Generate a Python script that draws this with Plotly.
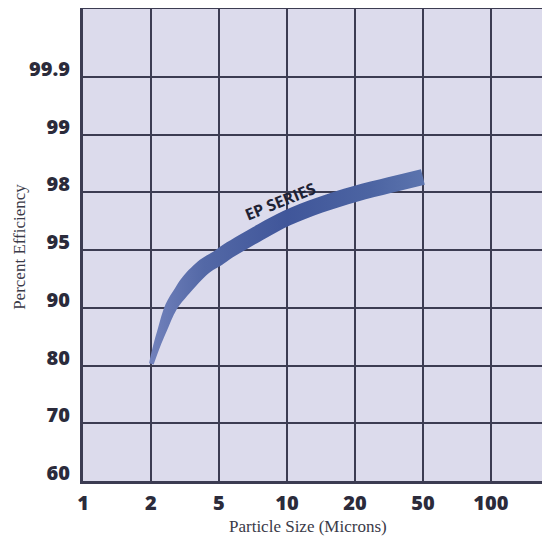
import numpy as np
import plotly.graph_objects as go

# ---- data ----
x_ticks = [1, 2, 5, 10, 20, 50, 100]
x_labels = ["1", "2", "5", "10", "20", "50", "100"]
y_ticks = [60, 70, 80, 90, 95, 98, 99, 99.9]
y_labels = ["60", "70", "80", "90", "95", "98", "99", "99.9"]

particle_size = [2.01, 2.15, 2.33, 2.62, 3.02, 3.34, 4.14, 4.93, 5.48,
                 7.75, 10.0, 14.0, 20.0, 32.0, 50.0]
efficiency = [80.4, 84.0, 87.0, 90.1, 91.8, 92.7, 93.95, 94.5, 94.95,
              96.3, 97.0, 97.56, 97.95, 98.17, 98.34]

series_name = "EP SERIES"
label_size, label_eff = 9.4, 97.7

# ---- scale mapping (evenly spaced grid) ----
xi = np.arange(len(x_ticks))
yi = np.arange(len(y_ticks))

def xpos(v):
    return np.interp(np.log10(v), np.log10(x_ticks), xi)

def ypos(v):
    return np.interp(-np.log10(100 - np.asarray(v, float)),
                     -np.log10(100 - np.asarray(y_ticks, float)), yi)

px = xpos(np.array(particle_size))
py = ypos(np.array(efficiency))

# plot geometry (pixels per axis unit)
W, H = 542, 530
ML, MR, MT, MB = 75, 0, 1, 57
x_range = [0, 6.87]
y_range = [0, 8.18]
sx = (W - ML - MR) / (x_range[1] - x_range[0])
sy = (H - MT - MB) / (y_range[1] - y_range[0])

# band outline: offset the centre line in screen space, tapering at the start
P = np.column_stack([px * sx, py * sy])
seg = np.linalg.norm(np.diff(P, axis=0), axis=1)
s = np.concatenate([[0], np.cumsum(seg)])
half_w = 8.0 * np.clip(0.3 + 0.7 * s / 90.0, 0, 1)
T = np.gradient(P, axis=0)
T /= np.linalg.norm(T, axis=1, keepdims=True)
N = np.column_stack([-T[:, 1], T[:, 0]])
upper = P + half_w[:, None] * N
lower = P - half_w[:, None] * N

fig = go.Figure()
fig.add_trace(go.Scatter(x=lower[:, 0] / sx, y=lower[:, 1] / sy, mode="lines",
                         line=dict(width=0, shape="spline", smoothing=1.0),
                         hoverinfo="skip", showlegend=False))
fig.add_trace(go.Scatter(x=upper[:, 0] / sx, y=upper[:, 1] / sy, mode="lines",
                         line=dict(width=0, shape="spline", smoothing=1.0),
                         fill="tonexty",
                         fillgradient=dict(type="horizontal",
                                           colorscale=[[0, "#7282bc"], [0.2, "#5368a6"],
                                                       [0.5, "#40569a"], [0.8, "#4c64a2"],
                                                       [1, "#5c74ae"]]),
                         hoverinfo="skip", showlegend=False))

fig.add_annotation(x=float(xpos(label_size)), y=float(ypos(label_eff)),
                   xref="x", yref="y", text="<b>" + series_name + "</b>",
                   showarrow=False, textangle=-22,
                   font=dict(family="Open Sans", size=16, color="#1e2235"))

fig.add_annotation(x=-0.135, y=0.496, xref="paper", yref="paper",
                   xanchor="center", yanchor="middle",
                   text="Percent Efficiency", textangle=-90, showarrow=False,
                   font=dict(family="Liberation Serif", size=17, color="#3a3a48"))
fig.add_annotation(x=0.482, y=-0.097, xref="paper", yref="paper",
                   xanchor="center", yanchor="middle",
                   text="Particle Size (Microns)", showarrow=False,
                   font=dict(family="Liberation Serif", size=17, color="#3a3a48"))

grid_col = "#3c3c52"
tick_font = dict(family="Open Sans", size=20, color="#2b2b3b", weight=800)
fig.update_xaxes(range=x_range, tickvals=list(xi), ticktext=x_labels,
                 showgrid=True, gridcolor=grid_col, gridwidth=2,
                 showline=True, linecolor=grid_col, linewidth=3, mirror=True,
                 zeroline=False, ticks="", ticklabelstandoff=2, automargin=False,
                 tickfont=tick_font)
fig.update_yaxes(range=y_range, tickvals=list(yi), ticktext=y_labels,
                 showgrid=True, gridcolor=grid_col, gridwidth=2,
                 showline=True, linecolor=grid_col, linewidth=3,
                 zeroline=False, ticks="", ticklabelstandoff=6, ticklabelshift=-8,
                 automargin=False, tickfont=tick_font)

fig.update_layout(width=W, height=H,
                  margin=dict(l=ML, r=MR, t=MT, b=MB, autoexpand=False),
                  paper_bgcolor="white", plot_bgcolor="#dcdbec",
                  showlegend=False)

fig.write_html("out.html")
